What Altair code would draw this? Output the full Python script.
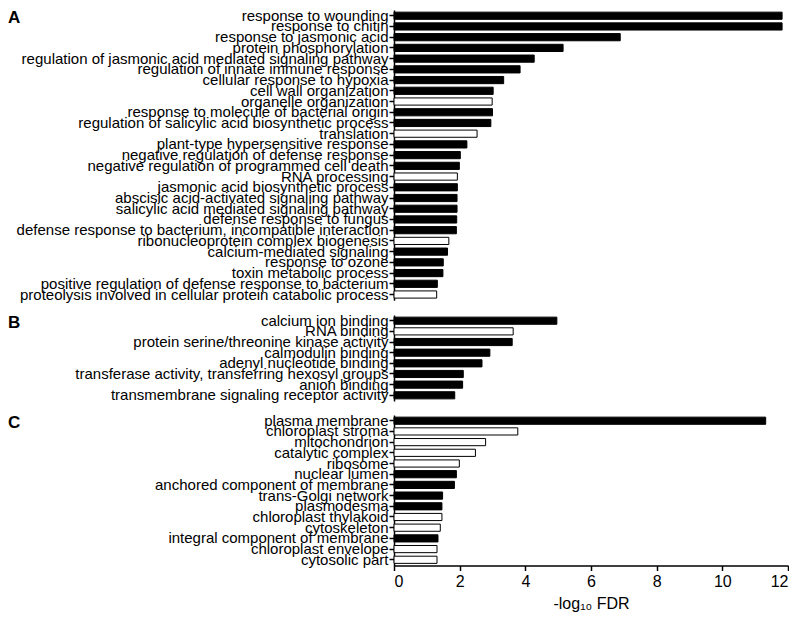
import altair as alt
import pandas as pd

FONT = "Liberation Sans"

# Panel A
a_terms = [
    "response to wounding", "response to chitin", "response to jasmonic acid",
    "protein phosphorylation", "regulation of jasmonic acid mediated signaling pathway",
    "regulation of innate immune response", "cellular response to hypoxia",
    "cell wall organization", "organelle organization",
    "response to molecule of bacterial origin",
    "regulation of salicylic acid biosynthetic process", "translation",
    "plant-type hypersensitive response", "negative regulation of defense response",
    "negative regulation of programmed cell death", "RNA processing",
    "jasmonic acid biosynthetic process", "abscisic acid-activated signaling pathway",
    "salicylic acid mediated signaling pathway", "defense response to fungus",
    "defense response to bacterium, incompatible interaction",
    "ribonucleoprotein complex biogenesis", "calcium-mediated signaling",
    "response to ozone", "toxin metabolic process",
    "positive regulation of defense response to bacterium",
    "proteolysis involved in cellular protein catabolic process",
]
a_values = [11.82, 11.82, 6.89, 5.15, 4.27, 3.84, 3.34, 3.02, 2.99, 3.0, 2.95, 2.53,
            2.22, 2.02, 1.99, 1.93, 1.93, 1.92, 1.92, 1.91, 1.9, 1.67, 1.63, 1.5,
            1.49, 1.32, 1.3]
a_filled = [1, 1, 1, 1, 1, 1, 1, 1, 0, 1, 1, 0, 1, 1, 1, 0, 1, 1, 1, 1, 1, 0, 1, 1,
            1, 1, 0]

# Panel B
b_terms = [
    "calcium ion binding", "RNA binding", "protein serine/threonine kinase activity",
    "calmodulin binding", "adenyl nucleotide binding",
    "transferase activity, transferring hexosyl groups", "anion binding",
    "transmembrane signaling receptor activity",
]
b_values = [4.96, 3.63, 3.6, 2.92, 2.68, 2.11, 2.09, 1.85]
b_filled = [1, 0, 1, 1, 1, 1, 1, 1]

# Panel C
c_terms = [
    "plasma membrane", "chloroplast stroma", "mitochondrion", "catalytic complex",
    "ribosome", "nuclear lumen", "anchored component of membrane",
    "trans-Golgi network", "plasmodesma", "chloroplast thylakoid", "cytoskeleton",
    "integral component of membrane", "chloroplast envelope", "cytosolic part",
]
c_values = [11.32, 3.77, 2.79, 2.48, 1.99, 1.9, 1.84, 1.48, 1.46, 1.46, 1.41, 1.34,
            1.31, 1.31]
c_filled = [1, 0, 0, 0, 0, 1, 1, 1, 1, 0, 0, 1, 0, 0]

panel_letters = ["A", "B", "C"]
x_ticks = [0, 2, 4, 6, 8, 10, 12]

STEP = 10.75
WIDTH = 394


def panel(terms, values, filled, letter, show_x):
    df = pd.DataFrame({
        "term": terms,
        "value": values,
        "filled": ["yes" if f else "no" for f in filled],
        "order": list(range(len(terms))),
    })
    h = STEP * len(terms)
    if show_x:
        xaxis = alt.Axis(values=x_ticks, title="-log₁₀ FDR", grid=False,
                         domainColor="black", domainWidth=1.5, tickColor="black",
                         tickWidth=1.5, tickSize=5, labelFontSize=16,
                         labelColor="black", titleFontSize=16, titleColor="black",
                         titleFontWeight="normal", titlePadding=6, labelPadding=3,
                         labelFont=FONT, titleFont=FONT)
    else:
        xaxis = None
    bars = alt.Chart(df).mark_bar(stroke="black", strokeWidth=1).encode(
        x=alt.X("value:Q", scale=alt.Scale(domain=[0, 12], nice=False), axis=xaxis),
        y=alt.Y("term:N", sort=alt.SortField("order"),
                scale=alt.Scale(paddingInner=0.33, paddingOuter=0.2),
                axis=alt.Axis(title=None, domainColor="black", domainWidth=1.5,
                              tickColor="black", tickWidth=1.5, tickSize=5,
                              labelFontSize=15, labelColor="black", labelPadding=1,
                              labelFont=FONT, labelLimit=0)),
        fill=alt.Fill("filled:N", scale=alt.Scale(domain=["yes", "no"],
                                                  range=["black", "white"]),
                      legend=None),
    )
    lab = alt.Chart(pd.DataFrame({"t": [letter]})).mark_text(
        font=FONT, fontSize=17, fontWeight="bold", align="left", baseline="top",
        color="black",
    ).encode(text="t:N", x=alt.value(-386), y=alt.value(0))
    return alt.layer(bars, lab).properties(width=WIDTH, height=h)


chart = alt.vconcat(
    panel(a_terms, a_values, a_filled, panel_letters[0], False),
    panel(b_terms, b_values, b_filled, panel_letters[1], False),
    panel(c_terms, c_values, c_filled, panel_letters[2], True),
    spacing=10,
).properties(padding=0).configure_view(stroke=None).configure_concat(spacing=10)

chart.save("out.html", embed_options={"renderer": "svg", "actions": False})
